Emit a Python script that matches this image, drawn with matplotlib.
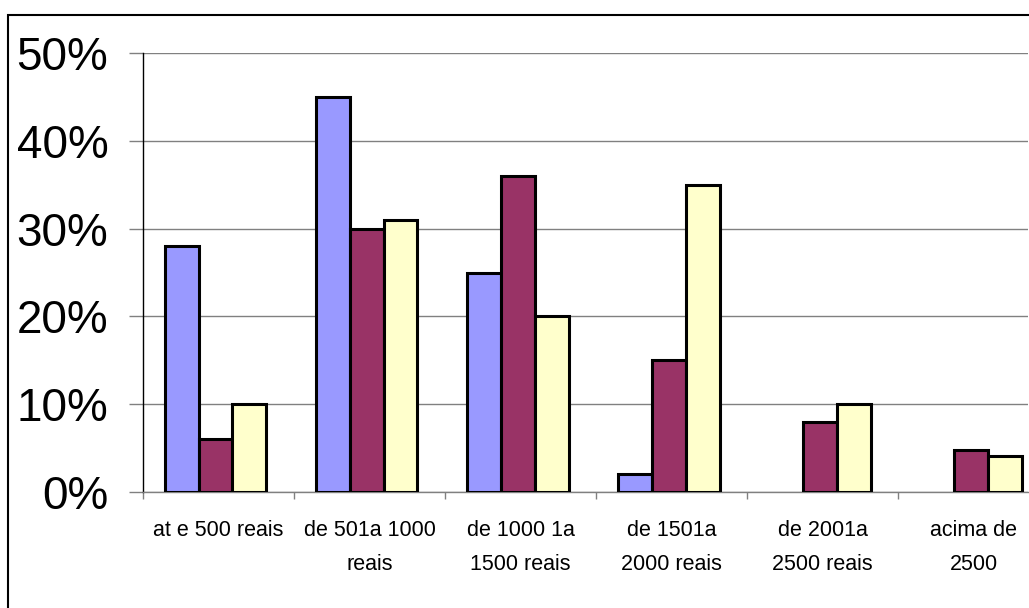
import matplotlib
matplotlib.use("Agg")
import matplotlib.pyplot as plt
import numpy as np
from matplotlib.patches import Rectangle
from matplotlib.ticker import FuncFormatter

plt.rcParams["font.family"] = ["Liberation Sans", "DejaVu Sans"]

# faixas de renda e percentuais das tres series
categorias = [
    "at e 500 reais",
    "de 501a 1000\nreais",
    "de 1000 1a\n1500 reais",
    "de 1501a\n2000 reais",
    "de 2001a\n2500 reais",
    "acima de\n2500",
]
serie_1 = [28, 45, 25, 2, 0, 0]
serie_2 = [6, 30, 36, 15, 8, 4.8]
serie_3 = [10, 31, 20, 35, 10, 4.1]

CORES = ["#9999FF", "#993366", "#FFFFCC"]

fig = plt.figure(figsize=(10.29, 6.08), dpi=100)
ax = fig.add_axes([143 / 1029, 1 - 492 / 608, 885 / 1029, 439 / 608])

x = np.arange(len(categorias))
largura = 0.225
for k, (vals, cor) in enumerate(zip([serie_1, serie_2, serie_3], CORES)):
    vals = np.array(vals, dtype=float)
    lw = [2.2 if v > 0 else 0 for v in vals]
    ax.bar(x - 0.02 + (k - 1) * largura, vals / 100.0, width=largura,
           color=cor, edgecolor="black", linewidth=lw, zorder=3)

ax.set_xlim(-0.5, 5.36)
ax.set_ylim(0, 0.5)

# eixo y: grade cinza, rotulos grandes
ax.set_yticks(np.arange(0, 0.51, 0.1))
ax.yaxis.set_major_formatter(FuncFormatter(lambda v, _: f"{v * 100:.0f}%"))
ax.tick_params(axis="y", length=10, width=1, color="#808080", pad=15,
               labelsize=33)
ax.grid(axis="y", color="#808080", linewidth=1, zorder=0)

# eixo x: marcas nas divisas, rotulos no centro de cada faixa
ax.set_xticks(np.arange(-0.5, 5.0, 1.0))
ax.set_xticklabels([])
ax.tick_params(axis="x", which="major", length=5, width=1, color="#808080",
               direction="out")
ax.set_xticks(x, minor=True)
ax.set_xticklabels(categorias, minor=True, fontsize=15.5, linespacing=1.85)
ax.tick_params(axis="x", which="minor", length=0, pad=20)

for lado in ["top", "right"]:
    ax.spines[lado].set_visible(False)
ax.spines["left"].set_color("black")
ax.spines["left"].set_linewidth(1)
ax.spines["bottom"].set_color("#808080")
ax.spines["bottom"].set_linewidth(1)

# moldura externa do grafico
fig.add_artist(Rectangle((8 / 1029, -0.1), 1.2, 1.1 - 15 / 608,
                         transform=fig.transFigure, fill=False,
                         edgecolor="black", linewidth=1.5))

fig.savefig("out.png", dpi=100)
